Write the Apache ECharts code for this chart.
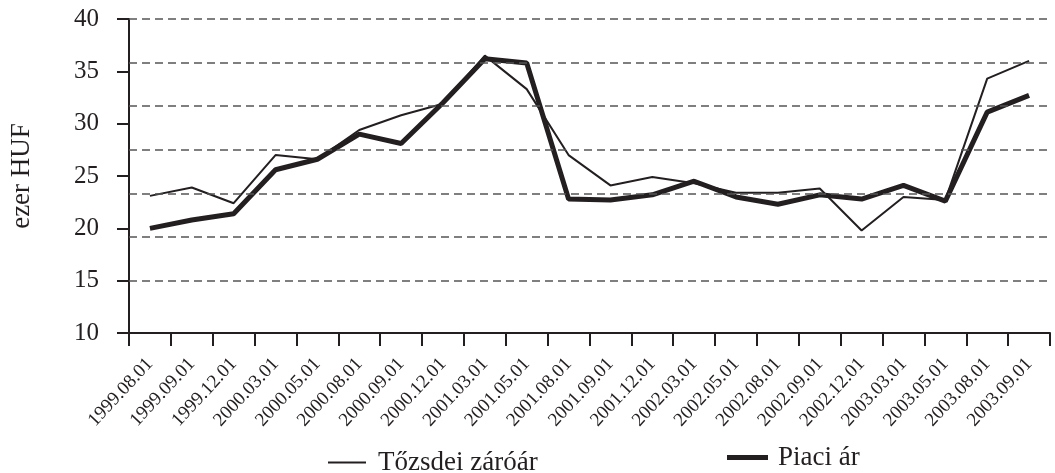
<!DOCTYPE html>
<html>
<head>
<meta charset="utf-8">
<script src="https://cdn.jsdelivr.net/npm/echarts@6/dist/echarts.min.js"></script>
<style>
  html, body { margin: 0; padding: 0; background: #fff; }
  #chart { width: 1055px; height: 473px; }
</style>
</head>
<body>
<div id="chart"></div>
<script>
// dates of the observations
const dates = ['1999.08.01','1999.09.01','1999.12.01','2000.03.01','2000.05.01','2000.08.01',
  '2000.09.01','2000.12.01','2001.03.01','2001.05.01','2001.08.01','2001.09.01','2001.12.01',
  '2002.03.01','2002.05.01','2002.08.01','2002.09.01','2002.12.01','2003.03.01','2003.05.01',
  '2003.08.01','2003.09.01'];
// ezer HUF
const tozsdei = [23.1, 23.9, 22.4, 27.0, 26.6, 29.4, 30.8, 31.9, 36.5, 33.3, 27.0, 24.1, 24.9,
  24.3, 23.4, 23.4, 23.8, 19.8, 23.0, 22.7, 34.3, 36.0];
const piaci = [20.0, 20.8, 21.4, 25.6, 26.6, 29.0, 28.1, 32.0, 36.2, 35.8, 22.8, 22.7, 23.2,
  24.5, 23.0, 22.3, 23.2, 22.8, 24.1, 22.6, 31.1, 32.7];
// dashed guide lines (6 equal steps between 15 and 40)
const gridValues = [15, 19.1667, 23.3333, 27.5, 31.6667, 35.8333, 40];

const ink = '#231f20';
const font = "'Liberation Serif', 'Times New Roman', serif";

let ec = echarts.init(document.getElementById('chart'));

let option = {
  animation: false,
  textStyle: { fontFamily: font, color: ink },
  grid: { left: 129, right: 5, top: 19, bottom: 140 },
  legend: [
    {
      data: ['Tőzsdei záróár'],
      left: 323, top: 444,
      icon: 'rect', itemWidth: 38, itemHeight: 2,
      textStyle: { fontFamily: font, fontSize: 27, color: ink, padding: [0, 0, 0, 7] }
    },
    {
      data: ['Piaci ár'],
      left: 722, top: 439,
      icon: 'rect', itemWidth: 41, itemHeight: 5,
      textStyle: { fontFamily: font, fontSize: 27, color: ink, padding: [0, 0, 0, 5] }
    }
  ],
  xAxis: {
    type: 'category',
    data: dates,
    boundaryGap: true,
    axisLine: { lineStyle: { color: ink, width: 2 } },
    axisTick: { show: true, length: 13, lineStyle: { color: ink, width: 2 } },
    axisLabel: { rotate: 47, interval: 0, margin: 28, fontFamily: font, fontSize: 19, color: ink }
  },
  yAxis: {
    type: 'value',
    min: 10, max: 40, interval: 5,
    name: 'ezer HUF',
    nameLocation: 'middle',
    nameGap: 94,
    nameTextStyle: { fontFamily: font, fontSize: 27, color: ink },
    axisLine: { show: true, lineStyle: { color: ink, width: 2 } },
    axisTick: { show: true, length: 12, lineStyle: { color: ink, width: 2 } },
    axisLabel: { margin: 30, fontFamily: font, fontSize: 25, color: ink },
    splitLine: { show: false }
  },
  series: [
    {
      name: 'Tőzsdei záróár',
      type: 'line',
      data: tozsdei,
      symbol: 'none',
      color: ink,
      lineStyle: { color: ink, width: 2 },
      markLine: {
        silent: true,
        symbol: 'none',
        label: { show: false },
        lineStyle: { color: '#555', width: 1.5, type: [8, 5] },
        data: gridValues.map(v => ({ yAxis: v }))
      }
    },
    {
      name: 'Piaci ár',
      type: 'line',
      data: piaci,
      symbol: 'none',
      color: ink,
      lineStyle: { color: ink, width: 5 }
    }
  ]
};
ec.setOption(option);
</script>
</body>
</html>
